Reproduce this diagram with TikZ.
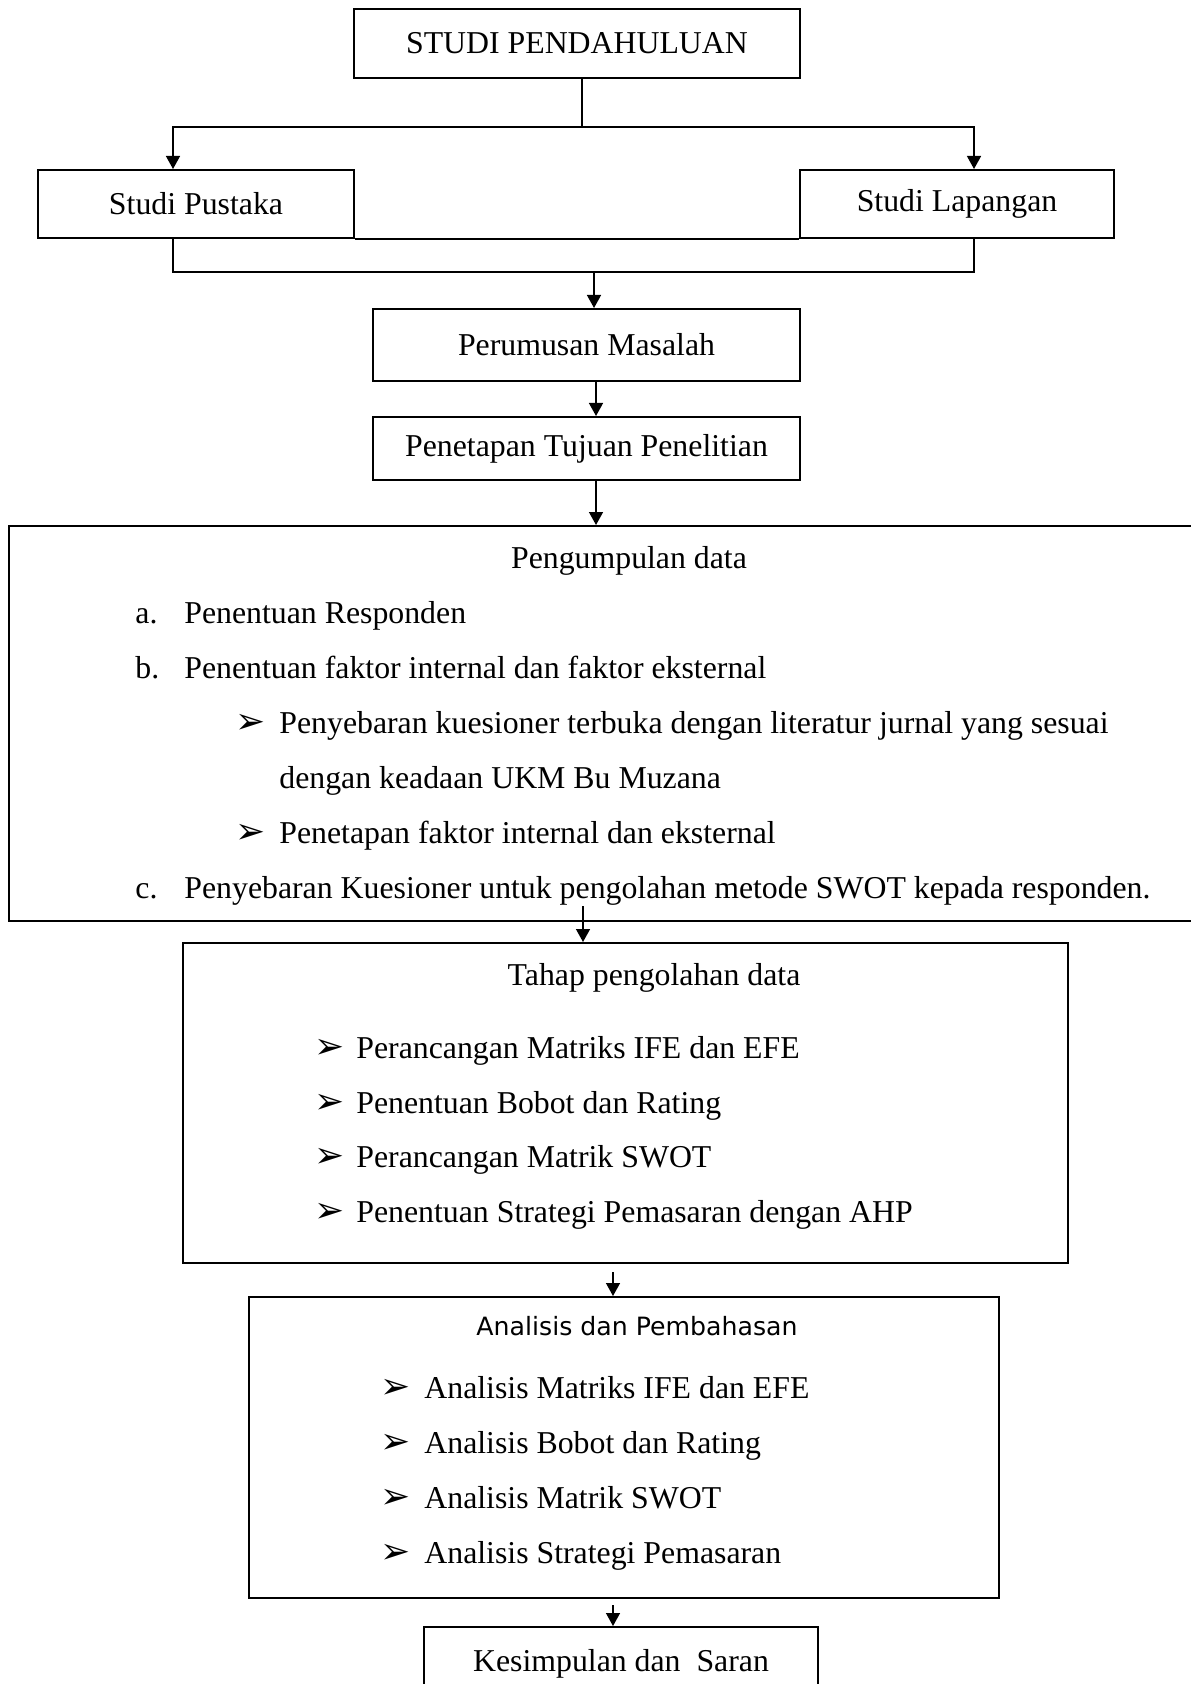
\documentclass[tikz,border=0pt]{standalone}
\usepackage{fontspec}
\setmainfont{Liberation Serif}
\newfontfamily\dejavu{DejaVu Sans}
\usepackage{tikz}
\usetikzlibrary{arrows.meta, positioning}
\tikzstyle{process} = [rectangle, draw=black, line width=1pt, inner sep=0pt, text centered]
\tikzstyle{entry} = [anchor=base west, inner sep=0pt]
\tikzstyle{heading} = [anchor=base, inner sep=0pt]
\tikzstyle{pointer} = [anchor=base west, inner sep=0pt, font=\dejavu\fontsize{18}{20}\selectfont]
\tikzstyle{flow} = [line width=0.7pt, -{Triangle[length=6.5pt, width=7pt]}]

\begin{document}
\begin{tikzpicture}[x=0.5pt, y=-0.5pt, font=\fontsize{15.9}{19}\selectfont]
		\useasboundingbox (0,0) rectangle (1190,1684);
		% top part
		\node (Studi Pendahuluan)[process, minimum width=223pt, minimum height=34.5pt] at (577,43.5) {STUDI PENDAHULUAN};
		\node (Studi Pustaka)[process, minimum width=158pt, minimum height=34pt] at (196,204) {Studi Pustaka};
		\node (Studi Lapangan)[process, minimum width=157pt, minimum height=34pt] at (957,204) {Studi Lapangan};
		\node (Perumusan Masalah)[process, minimum width=213.5pt, minimum height=36pt] at (586.5,345) {Perumusan Masalah};
		\node (Penetapan Tujuan)[process, minimum width=213.5pt, minimum height=31.5pt] at (586.5,448.5) {Penetapan Tujuan Penelitian};
		\coordinate (Split) at (582,127);
		\coordinate (Split Left) at (173,127);
		\coordinate (Split Right) at (974,127);
		\coordinate (Join) at (594,272);
		\coordinate (Join Left) at (173,272);
		\coordinate (Join Right) at (974,272);
		\draw [line width=0.7pt] (Split |- Studi Pendahuluan.south) -- (Split);
		\draw [flow] (Split) -- (Split Left) -- (Split Left |- Studi Pustaka.north);
		\draw [flow] (Split) -- (Split Right) -- (Split Right |- Studi Lapangan.north);
		\draw [line width=1pt] (Join Left |- Studi Pustaka.south) -- (Join Left) -- (Join Right) -- (Join Right |- Studi Lapangan.south);
		\draw [line width=1pt] (Studi Pustaka.south east) -- (Studi Lapangan.south west);
		\draw [flow] (Join) -- (Join |- Perumusan Masalah.north);
		\coordinate (Tap Two) at (596,381);
		\coordinate (Tap Three) at (596,480);
		\draw [flow] (Tap Two) -- (Tap Two |- Penetapan Tujuan.north);
		% pengumpulan data
		\node (Pengumpulan Data)[process, minimum width=595.5pt, minimum height=197.5pt] at (604.5,723.5) {};
		\draw [flow] (Tap Three) -- (Tap Three |- Pengumpulan Data.north);
		\node (Pengumpulan Title)[heading] at (629,568) {Pengumpulan data};
		\node (Label A)[entry] at (135,623) {a.};
		\node (Item A)[entry] at (184,623) {Penentuan Responden};
		\node (Label B)[entry] at (135,678) {b.};
		\node (Item B)[entry] at (184,678) {Penentuan faktor internal dan faktor eksternal};
		\node (Pointer B1)[pointer] at (235,733) {➢};
		\node (Item B1)[entry] at (279,733) {Penyebaran kuesioner terbuka dengan literatur jurnal yang sesuai};
		\node (Item B1 Cont)[entry] at (279,788) {dengan keadaan UKM Bu Muzana};
		\node (Pointer B2)[pointer] at (235,843) {➢};
		\node (Item B2)[entry] at (279,843) {Penetapan faktor internal dan eksternal};
		\node (Label C)[entry] at (135,898) {c.};
		\node (Item C)[entry] at (184,898) {Penyebaran Kuesioner untuk pengolahan metode SWOT kepada responden.};
		% pengolahan data
		\node (Tahap Pengolahan)[process, minimum width=442.5pt, minimum height=160pt] at (625.5,1103) {};
		\coordinate (Tap Four) at (583,906);
		\draw [flow] (Tap Four) -- (Tap Four |- Tahap Pengolahan.north);
		\node (Tahap Title)[heading] at (654,985) {Tahap pengolahan data};
		\node (Pointer T1)[pointer] at (314,1058) {➢};
		\node (Item T1)[entry] at (356,1058) {Perancangan Matriks IFE dan EFE};
		\node (Pointer T2)[pointer] at (314,1113) {➢};
		\node (Item T2)[entry] at (356,1113) {Penentuan Bobot dan Rating};
		\node (Pointer T3)[pointer] at (314,1167) {➢};
		\node (Item T3)[entry] at (356,1167) {Perancangan Matrik SWOT};
		\node (Pointer T4)[pointer] at (314,1222) {➢};
		\node (Item T4)[entry] at (356,1222) {Penentuan Strategi Pemasaran dengan AHP};
		% analisis
		\node (Analisis Pembahasan)[process, minimum width=375pt, minimum height=150.5pt] at (624,1447.5) {};
		\coordinate (Tap Five) at (613,1272);
		\draw [flow] (Tap Five) -- (Tap Five |- Analisis Pembahasan.north);
		\node (Analisis Title)[heading, font=\dejavu\fontsize{12.6}{15}\selectfont] at (637,1335) {Analisis dan Pembahasan};
		\node (Pointer A1)[pointer] at (380,1398) {➢};
		\node (Item A1)[entry] at (424,1398) {Analisis Matriks IFE dan EFE};
		\node (Pointer A2)[pointer] at (380,1453) {➢};
		\node (Item A2)[entry] at (424,1453) {Analisis Bobot dan Rating};
		\node (Pointer A3)[pointer] at (380,1508) {➢};
		\node (Item A3)[entry] at (424,1508) {Analisis Matrik SWOT};
		\node (Pointer A4)[pointer] at (380,1563) {➢};
		\node (Item A4)[entry] at (424,1563) {Analisis Strategi Pemasaran};
		% kesimpulan
		\node (Kesimpulan Saran)[process, minimum width=197pt, minimum height=36.5pt] at (621,1663.5) {Kesimpulan dan\ \ Saran};
		\coordinate (Tap Six) at (613,1605);
		\draw [flow] (Tap Six) -- (Tap Six |- Kesimpulan Saran.north);
	\end{tikzpicture}
\end{document}
